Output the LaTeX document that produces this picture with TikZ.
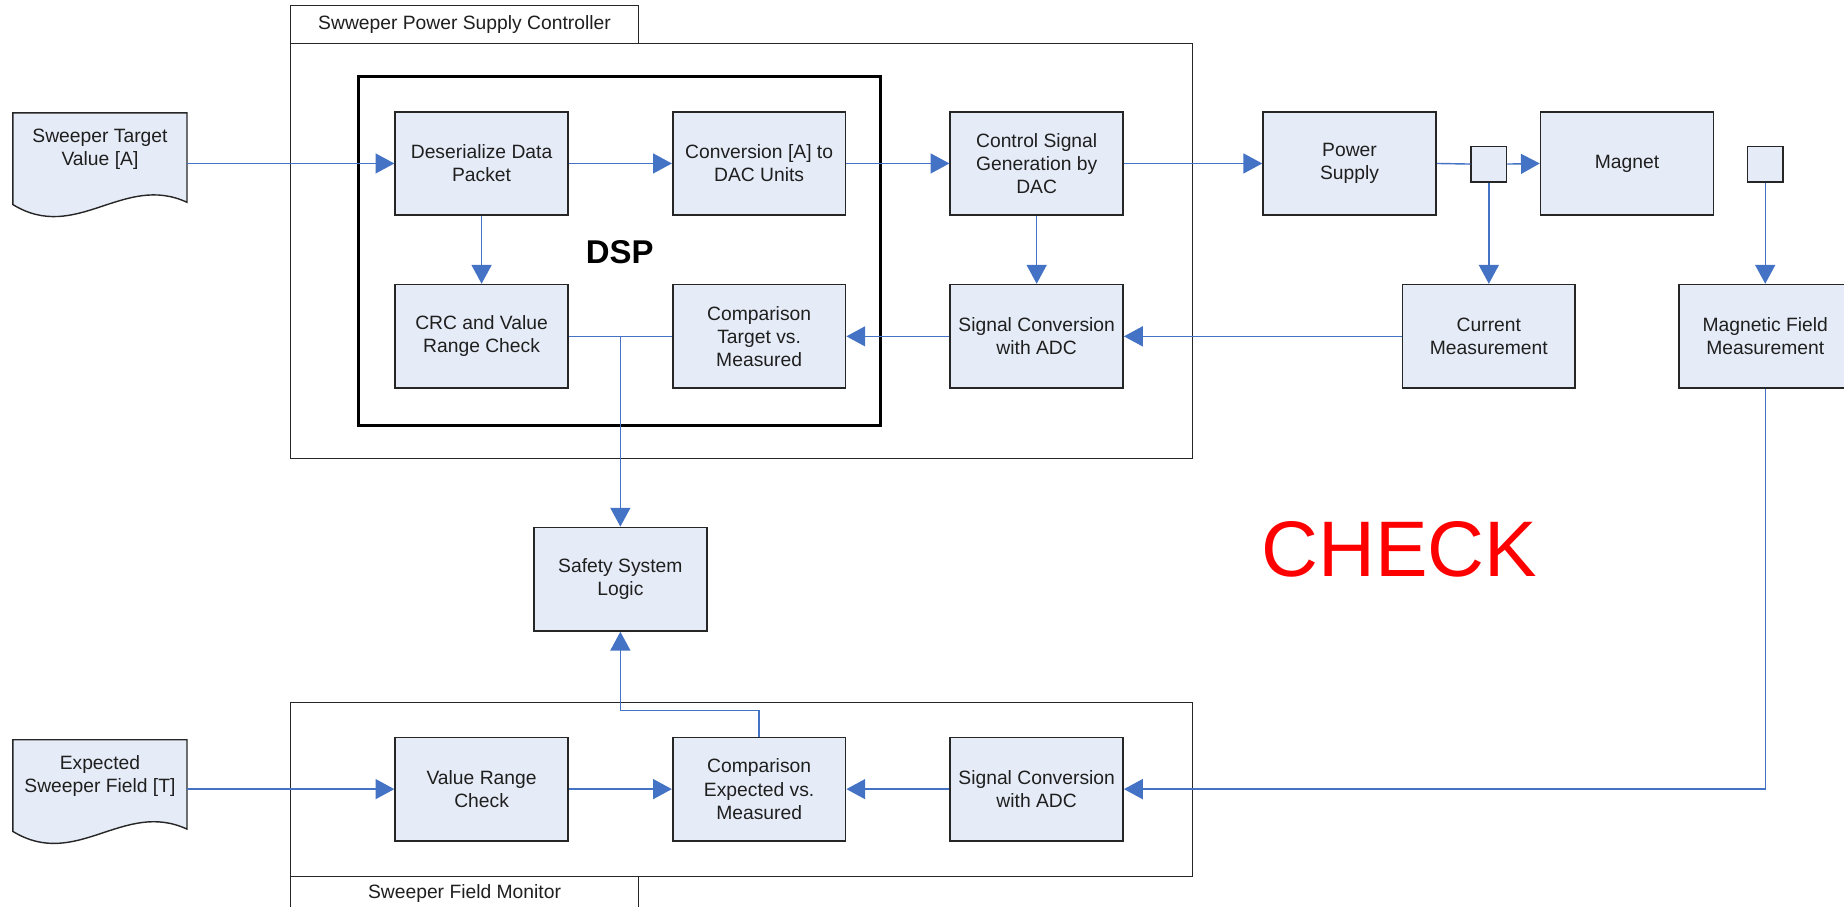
\documentclass[tikz,border=0pt]{standalone}
\usepackage{fontspec}
\setmainfont{Liberation Sans}
\usetikzlibrary{arrows.meta}
\definecolor{boxfill}{HTML}{E6ECF7}
\definecolor{boxline}{HTML}{262626}
\definecolor{linkblue}{HTML}{4472C4}
\begin{document}
\begin{tikzpicture}[x=0.5pt,y=-0.5pt,font=\fontsize{8.2}{9.8}\selectfont,
  blk/.style={draw=boxline,fill=boxfill,line width=0.7pt,minimum width=73.5pt,minimum height=44pt,inner sep=1pt,align=center,text=black!88},
  tap/.style={draw=boxline,fill=boxfill,line width=0.7pt,minimum size=15pt,inner sep=0pt},
  doc/.style={minimum width=74pt,inner sep=0pt,align=center,text=black!88},
  tab/.style={draw=boxline,fill=white,line width=0.5pt,minimum width=148pt,minimum height=16pt,inner sep=0pt,text=black!88},
  frame/.style={draw=boxline,line width=0.5pt},
  wire/.style={draw=linkblue,line width=0.6pt},
  link/.style={wire,-{Triangle[length=8pt,width=8.5pt]}}]
\useasboundingbox (0,0) rectangle (1568,771);
\newcommand{\docshape}[2]{\draw[draw=boxline,fill=boxfill,line width=0.6pt] (#1-74,#2-31) -- (#1+74,#2-31) -- (#1+74,#2+45) .. controls (#1+20,#2+20) and (#1-20,#2+80) .. (#1-74,#2+47) -- cycle;}
\draw[frame] (247,37) rectangle (1014,390);
\node[tab] (ctrltab) at (395,21) {Swweper Power Supply Controller};
\draw[frame] (247,597) rectangle (1014,745);
\node[tab,minimum height=15pt] (montab) at (395,760) {Sweeper Field Monitor};
\draw[draw=black,line width=1.3pt] (305,65) rectangle (749,362);
\node[font=\fontsize{14}{16}\selectfont\bfseries] (dsp) at (527,214) {DSP};
\docshape{85}{127}
\node[doc] (tgt) at (85,127) {Sweeper Target\\Value [A]};
\docshape{85}{660}
\node[doc] (expf) at (85,660) {Expected\\Sweeper Field [T]};
\node[blk] (deser) at (409.5,139) {Deserialize Data\\Packet};
\node[blk] (conv) at (645.5,139) {Conversion [A] to\\DAC Units};
\node[blk] (ctrl) at (881.5,139) {Control Signal\\Generation by\\DAC};
\node[blk] (psu) at (1147.5,139) {Power\\Supply};
\node[tap] (tap1) at (1266,139.5) {};
\node[blk] (magnet) at (1383.5,139) {Magnet};
\node[tap] (tap2) at (1501,139.5) {};
\node[blk] (crc) at (409.5,286) {CRC and Value\\Range Check};
\node[blk] (cmpt) at (645.5,286) {Comparison\\Target vs.\\Measured};
\node[blk] (adct) at (881.5,286) {Signal Conversion\\with ADC};
\node[blk] (curm) at (1266,286) {Current\\Measurement};
\node[blk] (magm) at (1501,286) {Magnetic Field\\Measurement};
\node[blk] (safety) at (527.5,492.5) {Safety System\\Logic};
\node[blk] (vrc) at (409.5,671) {Value Range\\Check};
\node[blk] (cmpe) at (645.5,671) {Comparison\\Expected vs.\\Measured};
\node[blk] (adcb) at (881.5,671) {Signal Conversion\\with ADC};
\node[text=red,font=\fontsize{33.5}{40}\selectfont] (check) at (1190,467) {CHECK};
\draw[link] (deser.west -| tgt.east) -- (deser.west);
\draw[link] (deser.east) -- (conv.west);
\draw[link] (conv.east) -- (ctrl.west);
\draw[link] (ctrl.east) -- (psu.west);
\draw[wire] (psu.east) -- (tap1.west);
\draw[link] (tap1.east) -- (magnet.west);
\draw[link] (tap1.south) -- (tap1.south |- curm.north);
\draw[link] (tap2.south) -- (tap2.south |- magm.north);
\draw[link] (deser.south) -- (crc.north);
\draw[link] (ctrl.south) -- (adct.north);
\draw[link] (curm.west) -- (adct.east);
\draw[link] (adct.west) -- (cmpt.east);
\draw[wire] (crc.east) -- (cmpt.west);
\draw[link] (crc.east -| safety.north) -- (safety.north);
\draw[link] (cmpe.north) -- ++(0,-22) -| (safety.south);
\draw[link] (vrc.west -| expf.east) -- (vrc.west);
\draw[link] (vrc.east) -- (cmpe.west);
\draw[link] (adcb.west) -- (cmpe.east);
\draw[link] (magm.south) |- (adcb.east);
\end{tikzpicture}
\end{document}
